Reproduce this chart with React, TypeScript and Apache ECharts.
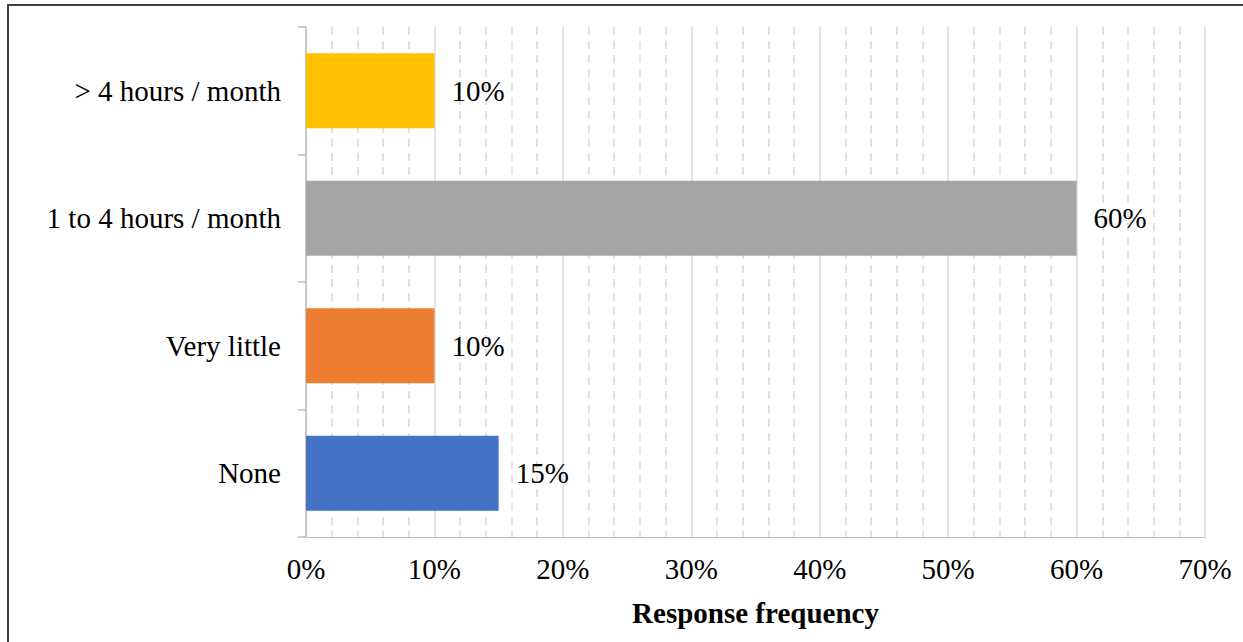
import React, { useEffect, useRef } from "react";
import * as echarts from "echarts";

const categories = ["None", "Very little", "1 to 4 hours / month", "> 4 hours / month"];
const values = [15, 10, 60, 10];
const barColors = ["#4472C4", "#ED7D31", "#A5A5A5", "#FFC000"];
const axisName = "Response frequency";
const FONT = "'Liberation Serif', 'Times New Roman', serif";
const FS = 29;

export default function App() {
  const ref = useRef<HTMLDivElement>(null);
  useEffect(() => {
    document.body.style.margin = "0";
    const chart = echarts.init(ref.current!, null, { renderer: "svg" });
    chart.setOption({
      animation: false,
      backgroundColor: "#ffffff",
      textStyle: { fontFamily: FONT },
      grid: { left: 306, right: 38, top: 27, bottom: 105, containLabel: false },
      xAxis: {
        type: "value",
        min: 0,
        max: 70,
        interval: 10,
        name: axisName,
        nameLocation: "middle",
        nameGap: 61,
        nameTextStyle: { fontFamily: FONT, fontSize: FS, fontWeight: "bold", color: "#000" },
        axisLine: { show: true, lineStyle: { color: "#BFBFBF", width: 1 } },
        axisTick: { show: false },
        axisLabel: { formatter: "{value}%", fontFamily: FONT, fontSize: FS, color: "#000", margin: 17 },
        splitLine: { show: true, lineStyle: { color: "#D9D9D9", width: 1.5, type: "solid" } },
        minorTick: { show: false, splitNumber: 5 },
        minorSplitLine: { show: true, lineStyle: { color: "#D9D9D9", width: 1.5, type: [8, 6] } },
      },
      yAxis: {
        type: "category",
        data: categories,
        axisLine: { show: true, lineStyle: { color: "#BFBFBF", width: 1.5 } },
        axisTick: { show: true, length: 8, lineStyle: { color: "#BFBFBF", width: 1.5 } },
        axisLabel: { fontFamily: FONT, fontSize: FS, color: "#000", margin: 25 },
        splitLine: { show: false },
      },
      series: [
        {
          type: "bar",
          barCategoryGap: "41%",
          data: values.map((v, i) => ({ value: v, itemStyle: { color: barColors[i] } })),
          label: {
            show: true,
            position: "right",
            distance: 17,
            formatter: "{c}%",
            fontFamily: FONT,
            fontSize: FS,
            color: "#000",
          },
        },
      ],
      graphic: [
        { type: "line", shape: { x1: 7, y1: 5, x2: 1243, y2: 5 }, style: { stroke: "#404040", lineWidth: 2 } },
        { type: "line", shape: { x1: 8, y1: 4, x2: 8, y2: 642 }, style: { stroke: "#404040", lineWidth: 2 } },
      ],
    });
    return () => chart.dispose();
  }, []);
  return <div ref={ref} style={{ width: 1243, height: 642 }} />;
}
